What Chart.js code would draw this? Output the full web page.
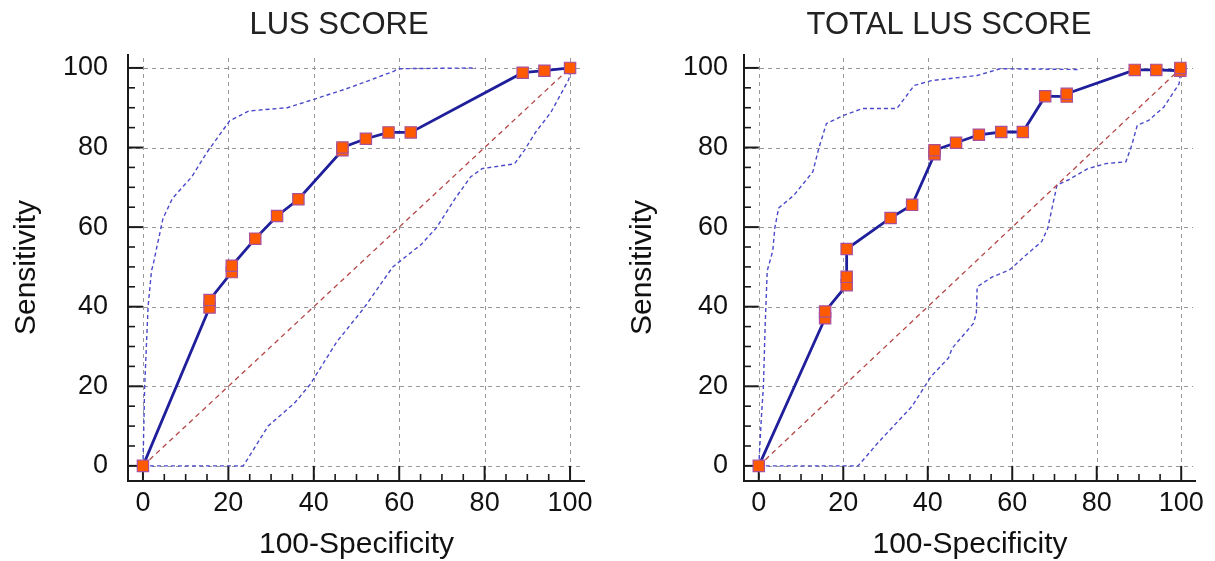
<!DOCTYPE html>
<html><head><meta charset="utf-8">
<script src="https://cdn.jsdelivr.net/npm/chart.js@4"></script>
<style>
html,body{margin:0;padding:0;background:#fff;overflow:hidden;width:1215px;height:561px}
canvas{position:absolute;top:0}
#c1{left:0}
#c2{left:610px}
</style></head><body>
<canvas id="c1" width="678" height="561"></canvas>
<canvas id="c2" width="678" height="561"></canvas>
<script>
// ---- data ----
const tickValues = [0, 20, 40, 60, 80, 100];
const minorTickValues = [5,10,15,25,30,35,45,50,55,65,70,75,85,90,95];
const xAxisTitle = '100-Specificity';
const yAxisTitle = 'Sensitivity';
const chartTitles = ['LUS SCORE', 'TOTAL LUS SCORE'];
const diagX = [0, 100];
const diagY = [0, 100];

// LUS SCORE
const lusRocX = [0, 15.6, 15.6, 20.8, 20.8, 26.3, 31.4, 36.4, 46.7, 46.7, 52.2, 57.5, 62.7, 88.9, 94.0, 100];
const lusRocY = [0, 39.8, 41.7, 48.7, 50.3, 57.1, 62.8, 67.0, 79.3, 80.0, 82.2, 83.8, 83.8, 98.8, 99.3, 100];
const lusUpX = [0, 0.4, 1.2, 2.0, 2.4, 3.3, 4.7, 6.9, 11.4, 15.0, 20.3, 24.8, 33.8, 40.0, 47.2, 52.6, 58.8, 59.7, 78];
const lusUpY = [0, 20, 40, 49, 50.6, 55.2, 62.2, 67.2, 72.6, 78.8, 86.7, 89.2, 90.0, 92.1, 94.6, 96.7, 99.2, 99.8, 100];
const lusLoX = [0, 23.5, 29.3, 35.5, 39.1, 45.4, 51.7, 58.5, 65.1, 68.7, 73.1, 76.7, 79.4, 87.0, 89.3, 91.9, 95.5, 99.7, 100];
const lusLoY = [0, 0, 10, 15.8, 20.4, 31.2, 39.6, 50, 55.6, 59.8, 67.2, 72.6, 74.7, 75.9, 79.3, 83.8, 88.8, 97.1, 100];

// TOTAL LUS SCORE
const totRocX = [0, 15.7, 15.7, 20.8, 20.8, 20.8, 31.2, 36.3, 41.6, 41.6, 46.7, 52.1, 57.4, 62.5, 67.8, 72.9, 72.9, 89.0, 94.1, 99.8, 99.8];
const totRocY = [0, 37.1, 38.8, 45.4, 47.5, 54.5, 62.3, 65.6, 78.3, 79.3, 81.2, 83.2, 83.9, 83.9, 92.9, 92.8, 93.5, 99.5, 99.5, 99.3, 100];
const totUpX = [0, 0.6, 1.1, 1.5, 2.0, 3.3, 3.8, 4.7, 8.3, 12.8, 14.2, 16.0, 20.1, 24.6, 32.7, 36.8, 40.8, 51.7, 57.1, 76.1];
const totUpY = [0, 12, 20, 35, 49, 54, 59.8, 64.8, 68, 73.9, 79.8, 86, 88.1, 89.8, 89.8, 95.6, 96.8, 98.1, 99.8, 99.6];
const totLoX = [0, 23.5, 28.2, 36.3, 40.8, 44.9, 45.8, 50.8, 51.5, 51.7, 55.3, 59.3, 63.4, 67.0, 68.4, 70.6, 73.4, 77.9, 82.4, 86.9, 88.3, 89.6, 92.3, 95.9, 99.5, 100];
const totLoY = [0, 0, 5.8, 15, 22.5, 27.1, 29.6, 35.8, 38.3, 45, 47.5, 49.2, 53.1, 56.4, 59.7, 70.6, 71.9, 74.7, 76, 76.4, 80.6, 85.6, 86.8, 90.2, 96, 100];

// ---- helpers ----
const pts = (xs, ys) => xs.map((x, i) => ({x, y: ys[i]}));

Chart.defaults.font.family = "'Liberation Sans', Arial, sans-serif";
Chart.defaults.color = '#111';

const framePlugin = {
  id: 'frame',
  beforeDatasetsDraw(chart) {
    const {ctx, chartArea: a, scales: {x, y}} = chart;
    ctx.save();
    ctx.strokeStyle = '#979797';
    ctx.lineWidth = 1;
    ctx.setLineDash([4, 4]);
    tickValues.forEach(v => {
      const px = Math.round(x.getPixelForValue(v)) + 0.5;
      ctx.beginPath(); ctx.moveTo(px, a.top + 4); ctx.lineTo(px, a.bottom); ctx.stroke();
      const py = Math.round(y.getPixelForValue(v)) + 0.5;
      ctx.beginPath(); ctx.moveTo(a.left, py); ctx.lineTo(a.right - 3, py); ctx.stroke();
    });
    ctx.setLineDash([]);
    ctx.strokeStyle = '#1a1a1a';
    ctx.lineWidth = 2;
    ctx.beginPath();
    ctx.moveTo(a.left, a.top); ctx.lineTo(a.left, a.bottom); ctx.lineTo(a.right, a.bottom);
    ctx.stroke();
    const x0 = x.getPixelForValue(0), y0 = y.getPixelForValue(0);
    tickValues.forEach(v => {
      const py = y.getPixelForValue(v), px = x.getPixelForValue(v);
      ctx.beginPath(); ctx.moveTo(a.left, py); ctx.lineTo(x0, py); ctx.stroke();
      ctx.beginPath(); ctx.moveTo(px, a.bottom); ctx.lineTo(px, y0); ctx.stroke();
    });
    ctx.lineWidth = 1.6;
    minorTickValues.forEach(v => {
      const py = y.getPixelForValue(v), px = x.getPixelForValue(v);
      ctx.beginPath(); ctx.moveTo(a.left, py); ctx.lineTo(a.left + 7, py); ctx.stroke();
      ctx.beginPath(); ctx.moveTo(px, a.bottom); ctx.lineTo(px, a.bottom - 7); ctx.stroke();
    });
    ctx.restore();
  }
};

function makeChart(id, o) {
  return new Chart(document.getElementById(id), {
    type: 'scatter',
    data: {
      datasets: [
        {data: pts(o.rocX, o.rocY), showLine: true, borderColor: '#1f1f9c', borderWidth: 2.8,
         pointStyle: 'rect', pointRadius: 8, pointBackgroundColor: '#ff5a00',
         pointBorderColor: '#a8509c', pointBorderWidth: 1.2},
        {data: pts(diagX, diagY), showLine: true, borderColor: '#b54646', borderWidth: 1.3,
         borderDash: [5, 4], pointRadius: 0},
        {data: pts(o.upX, o.upY), showLine: true, borderColor: '#4a4acb', borderWidth: 1.4,
         borderDash: [4, 3], pointRadius: 0},
        {data: pts(o.loX, o.loY), showLine: true, borderColor: '#4a4acb', borderWidth: 1.4,
         borderDash: [4, 3], pointRadius: 0}
      ]
    },
    options: {
      responsive: false, animation: false,
      layout: {padding: 0},
      plugins: {
        legend: {display: false}, tooltip: {enabled: false},
        title: {display: true, text: o.title, color: '#222',
                font: {size: 31, weight: 'normal'}, padding: {top: 7, bottom: 9.8}}
      },
      scales: {
        x: {
          type: 'linear', min: -3.5, max: 103.5,
          afterBuildTicks: s => { s.ticks = tickValues.map(v => ({value: v})); },
          afterFit: s => { s.height = 80; },
          grid: {display: false}, border: {display: false},
          ticks: {padding: -2, color: '#111', font: {size: 27}},
          title: {display: true, text: xAxisTitle, color: '#111',
                  font: {size: 30, lineHeight: 1.1}, padding: {top: 0, bottom: 0}}
        },
        y: {
          type: 'linear', min: -3.8, max: 103.5,
          afterBuildTicks: s => { s.ticks = tickValues.map(v => ({value: v})); },
          afterFit: s => { s.width = o.yWidth; },
          grid: {display: false}, border: {display: false},
          ticks: {padding: o.yTickPad, color: '#111', font: {size: 27}},
          title: {display: true, text: yAxisTitle, color: '#111',
                  font: {size: 30}, padding: {top: o.yTitlePad, bottom: 0}}
        },
        spacer: {
          type: 'linear', position: 'right', display: true,
          afterFit: s => { s.width = o.padRight; },
          grid: {display: false}, border: {display: false},
          ticks: {display: false}, title: {display: false}
        }
      }
    },
    plugins: [framePlugin]
  });
}

makeChart('c1', {title: chartTitles[0], rocX: lusRocX, rocY: lusRocY, upX: lusUpX, upY: lusUpY,
  loX: lusLoX, loY: lusLoY, yWidth: 128, padRight: 93, yTickPad: 12, yTitlePad: 9});
makeChart('c2', {title: chartTitles[1], rocX: totRocX, rocY: totRocY, upX: totUpX, upY: totUpY,
  loX: totLoX, loY: totLoY, yWidth: 134, padRight: 92, yTickPad: 8, yTitlePad: 14.5});
</script>
</body></html>
